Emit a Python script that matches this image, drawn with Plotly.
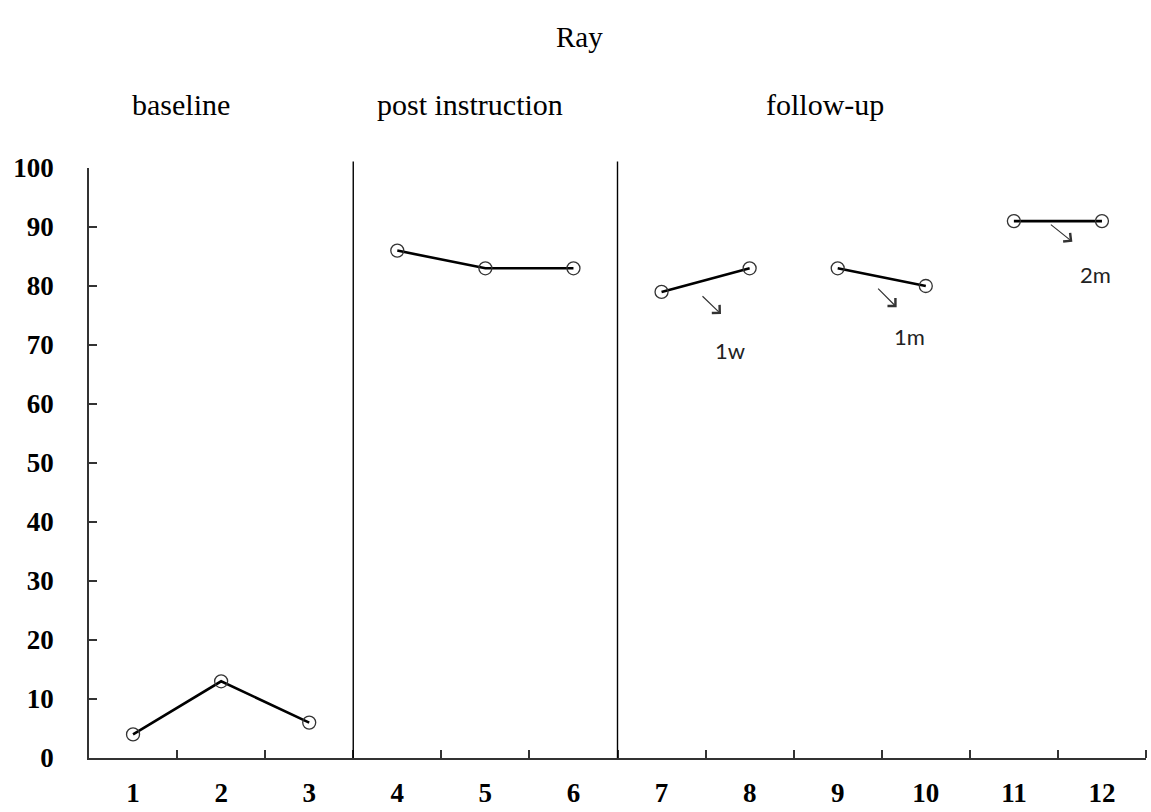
import plotly.graph_objects as go

# ---- data ----
sessions = [1, 2, 3, 4, 5, 6, 7, 8, 9, 10, 11, 12]
scores = [4, 13, 6, 86, 83, 83, 79, 83, 83, 80, 91, 91]
# connected segments (index ranges into sessions/scores)
segments = [(0, 3), (3, 6), (6, 8), (8, 10), (10, 12)]
phase_names = ["baseline", "post instruction", "follow-up"]
phase_label_x = [1.545, 4.82, 8.86]
phase_breaks = [3.5, 6.5]
followup_labels = ["1w", "1m", "2m"]
followup_text_pos = [(7.78, 69.0), (9.82, 71.4), (11.93, 82.0)]
followup_arrow_tail = [(7.448, 78.5), (9.442, 79.8), (11.403, 90.6)]
followup_arrow_head = [(7.675, 75.25), (9.669, 76.4), (11.664, 87.5)]
y_ticks = list(range(0, 101, 10))
x_minor_ticks = [i + 0.5 for i in range(1, 13)]

fig = go.Figure()
for a, b in segments:
    fig.add_trace(go.Scatter(
        x=sessions[a:b], y=scores[a:b], mode="lines+markers",
        line=dict(color="black", width=2.6),
        marker=dict(symbol="circle-open", size=13, color="#333333",
                    line=dict(width=1.3, color="#333333")),
        showlegend=False, cliponaxis=False, hoverinfo="skip",
    ))

shapes = []
for xb in phase_breaks:
    shapes.append(dict(type="line", xref="x", yref="paper", x0=xb, x1=xb,
                       y0=0, y1=1.011, line=dict(color="black", width=1.4)))

serif = "Liberation Serif"
annotations = [dict(text="Ray", xref="paper", yref="paper", x=0.4645, y=1.222,
                    xanchor="center", yanchor="middle", showarrow=False,
                    font=dict(family=serif, size=29, color="black"))]
for name, px in zip(phase_names, phase_label_x):
    annotations.append(dict(text=name, xref="x", yref="paper", x=px, y=1.108,
                            xanchor="center", yanchor="middle", showarrow=False,
                            font=dict(family=serif, size=30, color="black")))
for lab, (tx, ty) in zip(followup_labels, followup_text_pos):
    annotations.append(dict(text=lab, xref="x", yref="y", x=tx, y=ty, showarrow=False,
                            xanchor="center", yanchor="middle",
                            font=dict(family="Lato", size=22, color="#222222")))
for (ax, ay), (hx, hy) in zip(followup_arrow_tail, followup_arrow_head):
    annotations.append(dict(text="", xref="x", yref="y", x=hx, y=hy,
                            axref="x", ayref="y", ax=ax, ay=ay, showarrow=True,
                            arrowhead=4, arrowsize=1.8, arrowwidth=1.2,
                            arrowcolor="#333333", standoff=0, startstandoff=0,
                            font=dict(size=1)))

fig.update_layout(
    width=1151, height=812,
    margin=dict(l=89, r=5, t=168, b=54),
    paper_bgcolor="white", plot_bgcolor="white",
    shapes=shapes, annotations=annotations,
    xaxis=dict(range=[0.5, 12.5], tickmode="array", tickvals=sessions,
               ticktext=[str(s) for s in sessions], ticks="", showgrid=False,
               zeroline=False, showline=True, linecolor="#333333", linewidth=1.6,
               ticklabelstandoff=10, automargin=False,
               tickfont=dict(family=serif, size=27, color="black", weight="bold"),
               minor=dict(tickmode="array", tickvals=x_minor_ticks, ticks="inside",
                          ticklen=8, tickwidth=1.5, tickcolor="#333333",
                          showgrid=False)),
    yaxis=dict(range=[0, 100], tickmode="array", tickvals=y_ticks,
               ticks="inside", ticklen=8, tickwidth=1.5, tickcolor="#333333",
               showgrid=False, zeroline=False, showline=True, linecolor="#333333",
               linewidth=1.6, ticklabelstandoff=28, automargin=False,
               tickfont=dict(family=serif, size=27, color="black", weight="bold")),
)

fig.write_html("out.html", config={"displayModeBar": False},
               post_script="document.body.style.margin='0';document.body.style.overflow='hidden';")
